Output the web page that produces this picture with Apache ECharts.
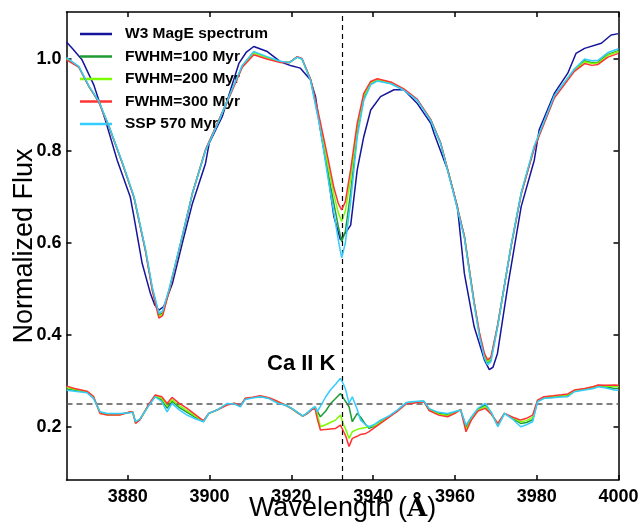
<!DOCTYPE html>
<html><head><meta charset="utf-8">
<script src="https://cdn.jsdelivr.net/npm/echarts@6/dist/echarts.min.js"></script>
<style>html,body{margin:0;padding:0;background:#fff}#c{width:638px;height:523px}</style>
</head><body><div id="c"></div>
<script>
// ---- Observed spectrum (W3 MagE) ----
const obsWave = [3865.0,3866.5,3868.8,3871.7,3874.5,3877.4,3880.6,3881.5,3883.5,3885.5,3886.6,3887.6,3888.8,3890.9,3893.3,3895.8,3899.0,3899.9,3903.1,3905.2,3907.2,3909.0,3910.8,3914.1,3917.3,3920.0,3922.2,3924.7,3925.9,3927.1,3928.8,3930.4,3932.0,3933.7,3934.5,3936.1,3937.7,3939.4,3941.8,3945.1,3947.5,3950.8,3954.1,3954.9,3958.2,3960.6,3962.3,3964.7,3967.2,3968.4,3969.3,3970.4,3972.9,3976.2,3979.4,3980.6,3984.3,3987.6,3989.6,3991.7,3995.8,3998.2,4000.0];
const obsFlux = [1.037,1.022,0.998,0.943,0.867,0.780,0.700,0.657,0.556,0.491,0.465,0.454,0.462,0.512,0.599,0.686,0.773,0.817,0.875,0.935,0.991,1.015,1.027,1.016,0.994,0.985,0.980,0.954,0.918,0.846,0.759,0.657,0.607,0.628,0.639,0.759,0.831,0.889,0.918,0.933,0.933,0.903,0.860,0.838,0.759,0.679,0.534,0.418,0.346,0.325,0.330,0.360,0.505,0.679,0.780,0.846,0.925,0.969,1.012,1.023,1.034,1.052,1.055];

// ---- Model spectra ----
const modelWave = [3865,3868,3870.5,3872.9,3875.4,3878.7,3881.5,3884.3,3886.0,3887.6,3888.5,3890.1,3892.9,3895.8,3899.0,3902.3,3905.1,3908.0,3910.8,3914.0,3917.3,3919.5,3921.4,3922.6,3924.7,3926.9,3928.8,3930.4,3931.5,3932.3,3933.2,3934.5,3936.1,3937.7,3939.4,3941.0,3944.3,3947.5,3950.8,3954.1,3956.5,3959.7,3962.3,3964.7,3966.0,3967.2,3968.0,3968.8,3970.4,3973.7,3976.2,3979.4,3984.3,3989.2,3991.7,3993.5,3995.0,3997.4,4000];
const fwhm100Flux = [1.001,0.983,0.940,0.907,0.853,0.773,0.700,0.585,0.500,0.444,0.448,0.498,0.599,0.708,0.802,0.867,0.925,0.985,1.015,1.004,0.994,0.992,1.004,1.000,0.954,0.860,0.760,0.685,0.635,0.603,0.625,0.710,0.840,0.915,0.945,0.953,0.947,0.933,0.911,0.867,0.817,0.708,0.614,0.469,0.400,0.355,0.340,0.347,0.418,0.592,0.708,0.809,0.918,0.976,0.996,0.992,0.993,1.010,1.018];
const fwhm200Flux = [1.000,0.983,0.940,0.907,0.853,0.773,0.700,0.585,0.499,0.441,0.445,0.497,0.599,0.708,0.802,0.867,0.924,0.984,1.013,1.003,0.993,0.992,1.004,1.000,0.955,0.865,0.775,0.705,0.665,0.647,0.670,0.740,0.850,0.920,0.948,0.955,0.948,0.934,0.911,0.867,0.817,0.709,0.615,0.470,0.402,0.357,0.342,0.349,0.419,0.592,0.707,0.808,0.917,0.975,0.994,0.990,0.991,1.008,1.016];
const fwhm300Flux = [0.998,0.982,0.940,0.906,0.852,0.772,0.699,0.583,0.496,0.437,0.442,0.495,0.598,0.708,0.803,0.868,0.923,0.982,1.009,1.000,0.992,0.992,1.005,1.001,0.956,0.870,0.790,0.720,0.685,0.672,0.690,0.760,0.860,0.925,0.951,0.957,0.950,0.935,0.912,0.868,0.818,0.710,0.616,0.472,0.405,0.360,0.346,0.352,0.420,0.591,0.706,0.806,0.915,0.973,0.990,0.986,0.988,1.004,1.012];
const ssp570Flux = [1.003,0.984,0.941,0.908,0.854,0.774,0.701,0.587,0.503,0.448,0.452,0.500,0.600,0.708,0.801,0.866,0.926,0.986,1.016,1.005,0.995,0.992,1.004,1.000,0.953,0.855,0.750,0.665,0.605,0.568,0.600,0.690,0.830,0.910,0.944,0.952,0.946,0.932,0.910,0.866,0.816,0.707,0.612,0.467,0.397,0.350,0.335,0.342,0.416,0.593,0.709,0.811,0.920,0.978,1.000,0.996,0.997,1.014,1.022];

// ---- Residuals (offset to 0.25) ----
const resWave = [3865.0,3867.0,3870.0,3871.6,3873.2,3875.0,3878.0,3880.6,3881.2,3881.9,3883.0,3885.0,3886.7,3888.3,3889.6,3890.8,3892.5,3894.5,3896.5,3898.5,3899.8,3901.8,3904.3,3906.1,3907.5,3908.7,3910.5,3912.4,3914.5,3916.6,3918.5,3920.1,3921.5,3922.8,3924.0,3925.0,3925.8,3926.3,3927.1,3928.4,3929.5,3930.8,3932.0,3932.8,3933.3,3934.1,3934.9,3936.1,3936.9,3938.2,3939.0,3940.5,3941.8,3944.0,3945.9,3948.2,3949.5,3951.0,3952.4,3953.7,3956.0,3958.2,3960.0,3961.4,3962.7,3964.0,3965.6,3967.4,3968.9,3970.5,3972.1,3974.0,3976.1,3977.5,3979.0,3980.2,3981.8,3984.0,3986.0,3987.6,3989.2,3991.7,3993.9,3995.0,3997.0,3999.0,4000.0];
const res100 = [.283,.280,.276,.264,.232,.228,.228,.232,.232,.210,.217,.246,.267,.259,.241,.256,.243,.232,.221,.212,.2297,.237,.250,.251,.245,.261,.264,.266,.263,.253,.248,.240,.232,.2239,.231,.239,.2442,.235,.2224,.235,.250,.262,.2732,.262,.255,.2442,.2116,.2297,.222,.205,.1971,.203,.212,.224,.236,.253,.254,.255,.256,.239,.230,.227,.233,.237,.200,.220,.239,.248,.231,.203,.2297,.219,.208,.210,.216,.256,.263,.265,.267,.268,.278,.282,.285,.289,.287,.284,.284];
const res200 = [.286,.282,.277,.265,.231,.227,.227,.233,.233,.209,.217,.247,.268,.262,.246,.260,.247,.236,.224,.213,.2297,.237,.249,.251,.245,.262,.264,.267,.263,.255,.248,.240,.231,.2239,.231,.239,.243,.2297,.2007,.205,.210,.2152,.2261,.2043,.195,.1754,.1898,.195,.1971,.199,.2007,.204,.210,.223,.235,.252,.253,.255,.256,.237,.228,.225,.231,.238,.195,.217,.237,.244,.229,.206,.2297,.221,.2116,.214,.221,.257,.265,.267,.268,.270,.279,.283,.287,.290,.289,.288,.288];
const res300 = [.289,.284,.278,.267,.2297,.226,.226,.2333,.233,.208,.216,.248,.2696,.2659,.2514,.2645,.252,.2406,.227,.2137,.2297,.237,.248,.252,.246,.2625,.265,.268,.264,.256,.248,.240,.231,.2239,.230,.238,.240,.2189,.1935,.195,.196,.1971,.2043,.1898,.180,.158,.1754,.180,.184,.1862,.190,.200,.208,.222,.234,.2514,.2514,.254,.2551,.236,.226,.2224,.230,.2384,.1898,.215,.235,.2406,.228,.208,.2297,.222,.2152,.219,.226,.2587,.2659,.268,.270,.272,.2804,.284,.288,.2913,.291,.2913,.291];
const resSSP = [.280,.278,.2746,.2623,.2333,.2297,.2297,.231,.232,.2116,.218,.245,.2659,.255,.233,.2514,.238,.226,.218,.2116,.2297,.237,.2514,.250,.2442,.2601,.263,.2659,.262,.252,.248,.2406,.232,.2239,.232,.240,.2442,.2333,.245,.2659,.280,.293,.3059,.292,.2804,.2514,.2659,.238,.2152,.205,.2007,.207,.2152,.225,.237,.2536,.255,.256,.2565,.240,.232,.2297,.234,.237,.2043,.222,.2406,.2514,.232,.2007,.2297,.218,.2007,.205,.2116,.255,.2624,.264,.2655,.2659,.2768,.2804,.284,.2877,.285,.2804,.280];

// ---- Axes / labels ----
const xTicks = [3880,3900,3920,3940,3960,3980,4000];
const yTicks = [0.2,0.4,0.6,0.8,1.0];
const seriesNames = ['W3 MagE spectrum','FWHM=100 Myr','FWHM=200 Myr','FWHM=300 Myr','SSP 570 Myr'];
const caKWave = 3932.5;
const residualBase = 0.25;
const annotation = 'Ca II K';

const colors = ['#14149c','#1f9b35','#7cfc00','#ff3333','#33ccff'];
const FONT = '"Liberation Sans", Arial, Helvetica, sans-serif';
function zip(w, v) { return w.map((x, i) => [x, v[i]]); }

const chart = echarts.init(document.getElementById('c'), null, {renderer: 'canvas'});
const axLine = {show: true, onZero: false, lineStyle: {color: '#000', width: 1.5}};
function xAx(pos, labels) {
  return {
    type: 'value', min: 3865, max: 4000, position: pos,
    axisLine: axLine,
    axisTick: {show: true, inside: true, length: 5, customValues: xTicks, lineStyle: {color: '#000', width: 1.5}},
    axisLabel: {show: labels, customValues: xTicks, formatter: v => String(v), fontFamily: FONT, fontWeight: 'bold', fontSize: 18, color: '#000', margin: 8},
    splitLine: {show: false},
    name: labels ? 'Wavelength ({a|Å})' : '', nameLocation: 'middle', nameGap: 15.5, nameMoveOverlap: false,
    nameTextStyle: {fontFamily: FONT, fontSize: 27, color: '#000', verticalAlign: 'top',
      rich: {a: {fontFamily: '"DejaVu Serif", serif', fontWeight: 'bold', fontSize: 26, color: '#000'}}}
  };
}
function yAx(pos, labels) {
  return {
    type: 'value', min: 0.085, max: 1.102, position: pos,
    axisLine: axLine,
    axisTick: {show: true, inside: true, length: 5, customValues: yTicks, lineStyle: {color: '#000', width: 1.5}},
    axisLabel: {show: labels, customValues: yTicks, formatter: v => v.toFixed(1), fontFamily: FONT, fontWeight: 'bold', fontSize: 18, color: '#000', margin: 5},
    splitLine: {show: false},
    name: labels ? 'Normalized Flux' : '', nameLocation: 'middle', nameGap: 28, nameMoveOverlap: false,
    nameTextStyle: {fontFamily: FONT, fontSize: 27, color: '#000'}
  };
}
function line(name, data, color, z) {
  return {type: 'line', name: name, data: data, symbol: 'none', showSymbol: false, smooth: false,
          lineStyle: {color: color, width: 1.5}, itemStyle: {color: color}, z: z, silent: true};
}
const modelFluxes = [fwhm100Flux, fwhm200Flux, fwhm300Flux, ssp570Flux];
const residuals = [res100, res200, res300, resSSP];
const series = [line(seriesNames[0], zip(obsWave, obsFlux), colors[0], 2)];
modelFluxes.forEach((f, i) => series.push(line(seriesNames[i + 1], zip(modelWave, f), colors[i + 1], 3 + i)));
residuals.forEach((r, i) => series.push(line('res ' + seriesNames[i + 1], zip(resWave, r), colors[i + 1], 3 + i)));
series.push({
  type: 'line', name: 'guides', data: [], symbol: 'none', z: 10, silent: true,
  markLine: {silent: true, symbol: 'none', label: {show: false}, animation: false,
    data: [
      {xAxis: caKWave, lineStyle: {color: '#000', type: [5, 4], width: 1.2}},
      {yAxis: residualBase, lineStyle: {color: '#555', type: [6, 4], width: 1.5}}
    ]}
});

chart.setOption({
  animation: false,
  grid: {left: 66.5, right: 19.5, top: 12, bottom: 43, containLabel: false, outerBoundsMode: 'none'},
  xAxis: [xAx('bottom', true), xAx('top', false)],
  yAxis: [yAx('left', true), yAx('right', false)],
  legend: {
    data: seriesNames.map(n => ({name: n, icon: 'rect'})), orient: 'vertical', left: 80, top: 26, padding: 0,
    itemWidth: 32, itemHeight: 2.5, itemGap: 6.5,
    textStyle: {fontFamily: FONT, fontWeight: 'bold', fontSize: 15.5, lineHeight: 16, color: '#000', padding: [0, 0, 0, 8]}
  },
  graphic: [{type: 'text', left: 267, top: 353, style: {text: annotation, font: 'bold 22px ' + FONT, fill: '#000'}}],
  series: series
});
</script>
</body></html>
